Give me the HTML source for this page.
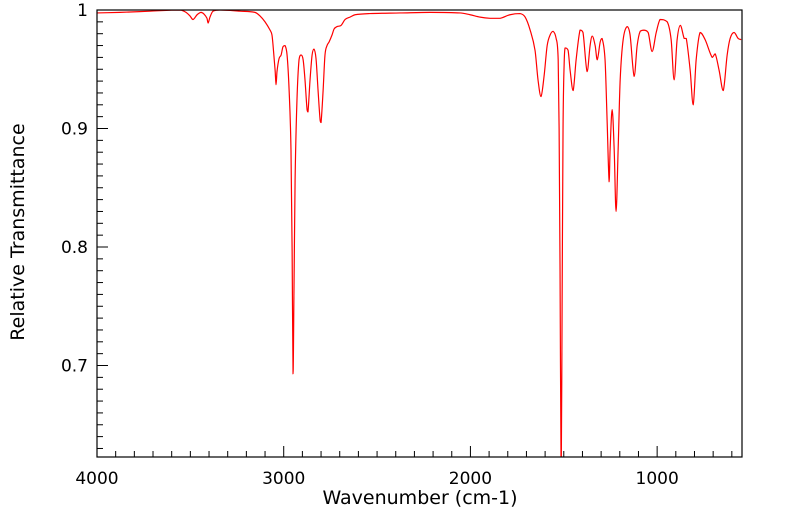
<!DOCTYPE html>
<html><head><meta charset="utf-8"><style>
html,body{margin:0;padding:0;background:#fff;}
svg{display:block;font-family:"DejaVu Sans","Liberation Sans",sans-serif;}
</style></head><body>
<svg id="chart" width="799" height="516" xmlns="http://www.w3.org/2000/svg">
<g id="ticks"></g>
<g id="plot"></g>
<rect x="97" y="10" width="645" height="447" fill="none" stroke="#000" stroke-width="1.2"/>
<text x="420" y="504" text-anchor="middle" font-size="19">Wavenumber (cm-1)</text>
<text transform="translate(24,232) rotate(-90)" text-anchor="middle" font-size="19">Relative Transmittance</text>
</svg>
<script>
const wavenumbers = [4000,3877,3716,3555,3523,3502,3486,3464,3443,3427,3411,3405,3395,3379,3341,3234,3154,3127,3100,3073,3063,3057,3046,3041,3036,3025,3014,3004,2993,2982,2971,2961,2955,2950,2945,2939,2929,2918,2907,2896,2886,2875,2870,2859,2848,2838,2827,2816,2805,2800,2789,2779,2768,2757,2741,2730,2714,2693,2671,2645,2618,2538,2377,2216,2055,2002,1948,1895,1841,1788,1734,1707,1680,1654,1638,1622,1605,1589,1573,1557,1541,1530,1525,1520,1514,1509,1504,1498,1493,1477,1466,1450,1434,1413,1397,1375,1359,1348,1332,1321,1305,1295,1279,1268,1257,1252,1241,1230,1220,1209,1198,1182,1161,1145,1123,1107,1091,1070,1048,1027,1005,984,946,925,909,893,876,855,844,823,807,791,770,743,705,689,668,646,625,609,588,566,550];
const transmittance = [0.9975,0.998,0.999,1.0,0.998,0.995,0.992,0.996,0.998,0.9966,0.993,0.989,0.994,0.999,1.0,0.999,0.998,0.995,0.990,0.983,0.979,0.970,0.949,0.937,0.948,0.959,0.962,0.969,0.970,0.962,0.932,0.882,0.797,0.693,0.764,0.857,0.924,0.958,0.962,0.958,0.941,0.916,0.914,0.941,0.962,0.967,0.959,0.932,0.907,0.905,0.932,0.962,0.970,0.973,0.979,0.984,0.986,0.987,0.992,0.994,0.996,0.997,0.9975,0.998,0.9975,0.996,0.994,0.993,0.993,0.996,0.997,0.994,0.983,0.966,0.941,0.927,0.945,0.970,0.979,0.982,0.976,0.958,0.90,0.78,0.60,0.75,0.90,0.955,0.968,0.966,0.949,0.932,0.958,0.983,0.981,0.948,0.970,0.978,0.970,0.958,0.973,0.976,0.958,0.907,0.855,0.882,0.916,0.882,0.830,0.882,0.941,0.975,0.986,0.979,0.944,0.970,0.982,0.983,0.981,0.965,0.981,0.992,0.990,0.975,0.941,0.975,0.987,0.976,0.976,0.949,0.920,0.958,0.981,0.975,0.960,0.963,0.949,0.932,0.962,0.976,0.981,0.976,0.975];
const xTickLabels = [4000,3000,2000,1000];
const yTickLabels = [1,0.9,0.8,0.7];

const NS="http://www.w3.org/2000/svg";
const X0=97,X1=742,Y0=10,Y1=457;
const WMAX=4000,WMIN=545.5,TMAX=1.0,TMIN=0.6228;
function xs(w){return X0+(WMAX-w)/(WMAX-WMIN)*(X1-X0);}
function ys(t){return Y0+(TMAX-t)/(TMAX-TMIN)*(Y1-Y0);}

const plot=document.getElementById('plot');
const clip=document.createElementNS(NS,'clipPath');clip.setAttribute('id','clp');
const cr=document.createElementNS(NS,'rect');cr.setAttribute('x',X0);cr.setAttribute('y',Y0);cr.setAttribute('width',X1-X0);cr.setAttribute('height',Y1-Y0);
clip.appendChild(cr);plot.appendChild(clip);
const P=wavenumbers.map((w,i)=>[xs(w),ys(transmittance[i])]);
let d='M'+P[0][0].toFixed(2)+','+P[0][1].toFixed(2);
for(let i=0;i<P.length-1;i++){
 const p0=P[Math.max(0,i-1)],p1=P[i],p2=P[i+1],p3=P[Math.min(P.length-1,i+2)];
 const dx=p2[0]-p1[0];
 let m1=(p2[1]-p0[1])/((p2[0]-p0[0])||1), m2=(p3[1]-p1[1])/((p3[0]-p1[0])||1);
 const s=(p2[1]-p1[1])/(dx||1);
 if(s*m1<=0) m1=0; if(s*m2<=0) m2=0;
 if(Math.abs(m1)>3*Math.abs(s)) m1=3*s; if(Math.abs(m2)>3*Math.abs(s)) m2=3*s;
 const c1=[p1[0]+dx/3,p1[1]+m1*dx/3],c2=[p2[0]-dx/3,p2[1]-m2*dx/3];
 d+='C'+c1[0].toFixed(2)+','+c1[1].toFixed(2)+' '+c2[0].toFixed(2)+','+c2[1].toFixed(2)+' '+p2[0].toFixed(2)+','+p2[1].toFixed(2);
}
const line=document.createElementNS(NS,'path');
line.setAttribute('d',d);line.setAttribute('fill','none');line.setAttribute('stroke','#ff0000');line.setAttribute('stroke-width','1.2');line.setAttribute('stroke-linejoin','round');line.setAttribute('clip-path','url(#clp)');


plot.appendChild(line);

const tk=document.getElementById('ticks');
function ln(x1,y1,x2,y2){const l=document.createElementNS(NS,'line');l.setAttribute('x1',x1);l.setAttribute('y1',y1);l.setAttribute('x2',x2);l.setAttribute('y2',y2);l.setAttribute('stroke','#000');l.setAttribute('stroke-width','1');tk.appendChild(l);return l;}
for(let w=4000;w>=WMIN;w-=100){const x=xs(w);const major=(w%1000===0);
 const l=ln(x,Y1,x,Y1-(major?11:6));
 
 }
for(let k=100;k>=63;k--){const t=k/100;const y=ys(t);const major=(k%10===0);
 const l=ln(X0,y,X0+(major?11:6),y);
 
 }
xTickLabels.forEach(v=>{const t=document.createElementNS(NS,'text');t.setAttribute('x',xs(v));t.setAttribute('y',484);t.setAttribute('text-anchor','middle');t.setAttribute('font-size','17');t.textContent=v;
 
 
 tk.appendChild(t);});
yTickLabels.forEach(v=>{const t=document.createElementNS(NS,'text');t.setAttribute('x',88);t.setAttribute('y',ys(v)+6);t.setAttribute('text-anchor','end');t.setAttribute('font-size','17');t.textContent=String(v);
 
 
 tk.appendChild(t);});
</script>
</body></html>
